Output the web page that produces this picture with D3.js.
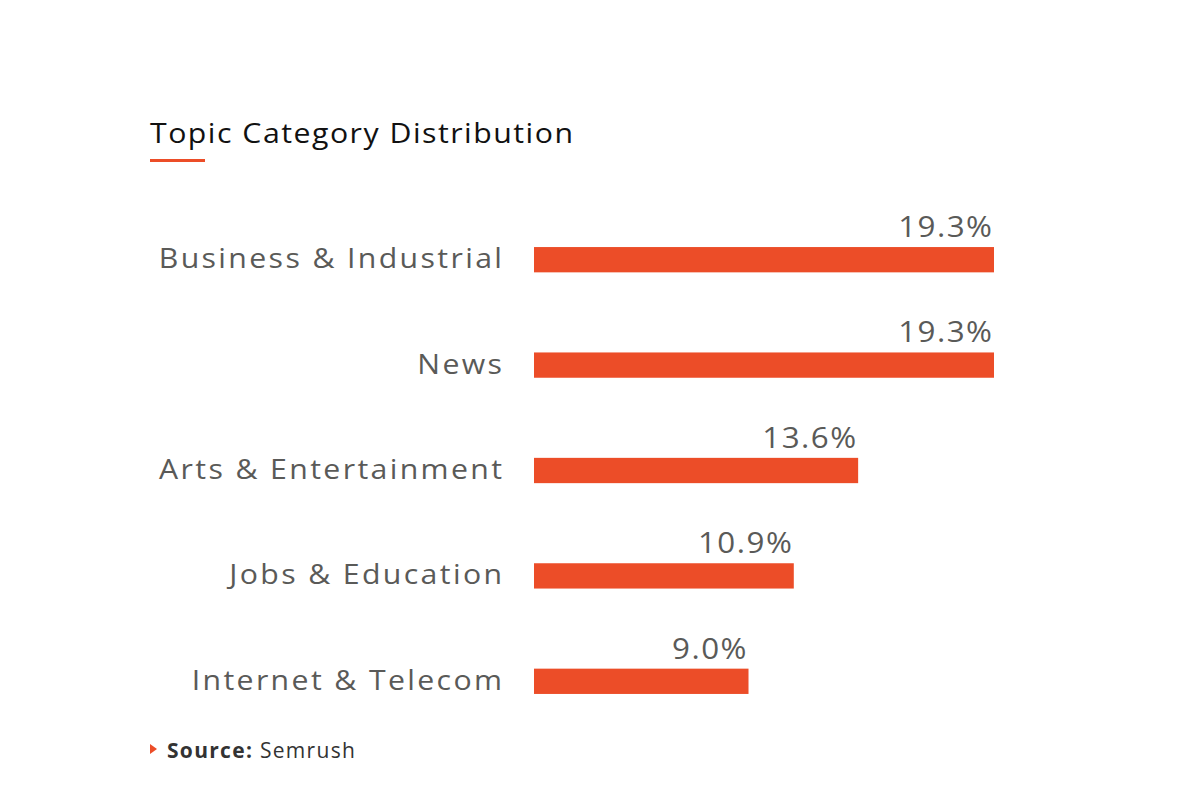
<!DOCTYPE html>
<html>
<head>
<meta charset="utf-8">
<script src="https://cdn.jsdelivr.net/npm/d3@7"></script>
<style>
  body { margin: 0; background: #fff; }
  svg text { font-family: "Open Sans", "Noto Sans", sans-serif; }
</style>
</head>
<body>
<svg id="chart" width="1200" height="800"></svg>
<script>
const categories = ["Business & Industrial", "News", "Arts & Entertainment", "Jobs & Education", "Internet & Telecom"];
const values = [19.3, 19.3, 13.6, 10.9, 9.0];
const valueLabels = ["19.3%", "19.3%", "13.6%", "10.9%", "9.0%"];
const title = "Topic Category Distribution";
const sourceLabel = "Source:";
const sourceName = "Semrush";

const orange = "#EC4D28";
const grey = "#5a5a58";
const stretch = 1.08;

const svg = d3.select("#chart");

const x = d3.scaleLinear().domain([0, 19.3]).range([534, 994]);
const y = d3.scaleBand().domain(categories).range([207, 734]).paddingInner(0.76).paddingOuter(0.38);

// Title
svg.append("text").attr("transform", `translate(150,143) scale(${stretch},1)`)
  .attr("font-size", 28).attr("fill", "#111").attr("letter-spacing", 1.4)
  .text(title);
svg.append("rect").attr("x", 150).attr("y", 159).attr("width", 55).attr("height", 3).attr("fill", orange);

const g = svg.append("g");
g.selectAll("rect.bar").data(categories).join("rect")
  .attr("class", "bar")
  .attr("x", x(0))
  .attr("y", d => y(d))
  .attr("width", (d, i) => x(values[i]) - x(0))
  .attr("height", y.bandwidth())
  .attr("fill", orange);

const catLS = 2.2;
g.selectAll("text.cat").data(categories).join("text")
  .attr("class", "cat")
  .attr("transform", d => `translate(${502 + catLS * stretch},${y(d) + y.bandwidth() / 2 + 8.5}) scale(${stretch},1)`)
  .attr("text-anchor", "end")
  .attr("font-size", 28).attr("fill", grey).attr("letter-spacing", catLS)
  .text(d => d);

const valLS = 1.4;
g.selectAll("text.val").data(categories).join("text")
  .attr("class", "val")
  .attr("transform", (d, i) => `translate(${x(values[i]) - 2 + valLS * stretch},${y(d) - 10}) scale(${stretch},1)`)
  .attr("text-anchor", "end")
  .attr("font-size", 29).attr("fill", grey).attr("letter-spacing", valLS)
  .text((d, i) => valueLabels[i]);

// Source
svg.append("path").attr("d", "M150,744 L157,749 L150,754 Z").attr("fill", orange);
const src = svg.append("text").attr("x", 167).attr("y", 758).attr("font-size", 21).attr("fill", "#333").attr("letter-spacing", 1.3);
src.append("tspan").attr("font-weight", "bold").text(sourceLabel);
src.append("tspan").text(" " + sourceName);
</script>
</body>
</html>
